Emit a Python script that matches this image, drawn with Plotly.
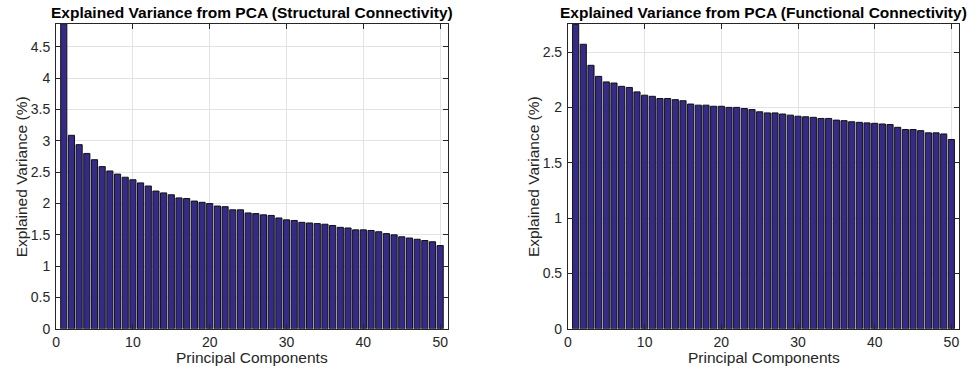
import plotly.graph_objects as go

components = list(range(1, 51))

structural = [4.87, 3.09, 2.94, 2.80, 2.70, 2.59, 2.52, 2.47, 2.42, 2.38,
              2.33, 2.28, 2.20, 2.17, 2.14, 2.09, 2.08, 2.04, 2.02, 2.00,
              1.96, 1.95, 1.90, 1.90, 1.85, 1.84, 1.82, 1.81, 1.77, 1.74,
              1.73, 1.70, 1.69, 1.68, 1.67, 1.65, 1.62, 1.61, 1.58, 1.58,
              1.57, 1.55, 1.52, 1.50, 1.47, 1.45, 1.43, 1.41, 1.39, 1.33]

functional = [2.75, 2.57, 2.38, 2.28, 2.23, 2.22, 2.19, 2.18, 2.14, 2.11,
              2.10, 2.08, 2.08, 2.07, 2.06, 2.03, 2.02, 2.02, 2.01, 2.01,
              2.00, 2.00, 1.99, 1.98, 1.96, 1.95, 1.95, 1.94, 1.93, 1.92,
              1.915, 1.91, 1.90, 1.90, 1.885, 1.88, 1.87, 1.865, 1.86, 1.856,
              1.85, 1.845, 1.82, 1.80, 1.80, 1.79, 1.77, 1.77, 1.76, 1.71]

titles = ["Explained Variance from PCA (Structural Connectivity)",
          "Explained Variance from PCA (Functional Connectivity)"]
x_ticks = [0, 10, 20, 30, 40, 50]
y_ticks_left = [0, 0.5, 1, 1.5, 2, 2.5, 3, 3.5, 4, 4.5]
y_ticks_right = [0, 0.5, 1, 1.5, 2, 2.5]

FONT = "Liberation Sans, Arial, Helvetica, sans-serif"
AXC = "#262626"
BAR = "#352A87"
GRID = "#e3e3e3"

fig = go.Figure()
fig.add_trace(go.Bar(x=components, y=structural, xaxis="x", yaxis="y",
                     marker=dict(color=BAR, line=dict(color="#111111", width=1)),
                     width=0.8, showlegend=False))
fig.add_trace(go.Bar(x=components, y=functional, xaxis="x2", yaxis="y2",
                     marker=dict(color=BAR, line=dict(color="#111111", width=1)),
                     width=0.8, showlegend=False))

W, H = 970, 375
ytop, ybot = 24.3, 336.0
dom_y = [(H - ybot) / H, (H - ytop) / H]
dom_x1 = [52.3 / W, 445.7 / W]
dom_x2 = [566.3 / W, 959.0 / W]

def xaxis(domain, anchor):
    return dict(domain=domain, anchor=anchor, range=[0, 51], tickvals=x_ticks,
                ticks="inside", ticklen=5, tickcolor=AXC, showline=True,
                linecolor=AXC, linewidth=1, mirror="ticks", showgrid=True,
                gridcolor=GRID, zeroline=False, ticklabelstandoff=0,
                tickfont=dict(family=FONT, size=14, color=AXC))

def yaxis(domain, anchor, rng, ticks):
    return dict(domain=domain, anchor=anchor, range=rng, tickvals=ticks,
                ticktext=[("%g" % t) for t in ticks],
                ticks="inside", ticklen=5, tickcolor=AXC, showline=True,
                linecolor=AXC, linewidth=1, mirror="ticks", showgrid=True,
                gridcolor=GRID, zeroline=False, ticklabelstandoff=2,
                tickfont=dict(family=FONT, size=14, color=AXC))

annotations = []
for dom, t in [(dom_x1, titles[0]), (dom_x2, titles[1])]:
    cx = (dom[0] + dom[1]) / 2
    annotations.append(dict(text="<b>" + t + "</b>", x=cx, y=(H - 13) / H,
                            xref="paper", yref="paper", showarrow=False,
                            xanchor="center", yanchor="middle",
                            font=dict(family=FONT, size=15.5, color="black")))
    annotations.append(dict(text="Principal Components", x=cx, y=0,
                            xref="paper", yref="paper", showarrow=False,
                            xanchor="center", yanchor="bottom", yshift=-1,
                            font=dict(family=FONT, size=15.5, color=AXC)))
for xp in [17 / W, 531 / W]:
    annotations.append(dict(text="Explained Variance (%)", x=xp,
                            y=(dom_y[0] + dom_y[1]) / 2, textangle=-90,
                            xref="paper", yref="paper", showarrow=False,
                            xanchor="center", yanchor="middle",
                            font=dict(family=FONT, size=15.5, color=AXC)))

fig.update_layout(
    width=W, height=H, margin=dict(l=0, r=0, t=0, b=0),
    paper_bgcolor="white", plot_bgcolor="white",
    xaxis=xaxis(dom_x1, "y"),
    yaxis=yaxis(dom_y, "x", [0, 4.87], y_ticks_left),
    xaxis2=xaxis(dom_x2, "y2"),
    yaxis2=yaxis(dom_y, "x2", [0, 2.755], y_ticks_right),
    annotations=annotations,
    font=dict(family=FONT),
    bargap=0.2,
)

fig.write_html("out.html")
